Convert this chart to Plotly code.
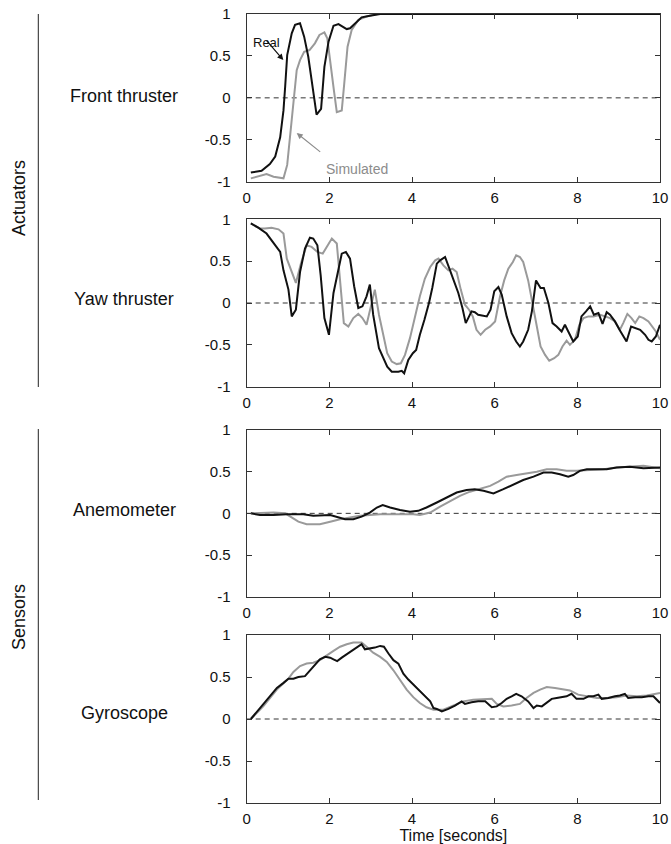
import plotly.graph_objects as go

# ---------------- data ----------------
front_real_t = [0.1, 0.36, 0.56, 0.69, 0.81, 0.89, 0.93, 0.98, 1.09, 1.17, 1.29, 1.39, 1.49, 1.59, 1.69, 1.80, 1.88, 1.98, 2.10, 2.22, 2.32, 2.42, 2.50, 2.62, 2.78, 2.98, 3.23, 4.0, 6.0, 8.0, 10.0]
front_real_v = [-0.89, -0.87, -0.79, -0.70, -0.47, -0.15, 0.13, 0.51, 0.77, 0.87, 0.89, 0.73, 0.49, 0.13, -0.20, -0.13, 0.37, 0.67, 0.86, 0.88, 0.85, 0.82, 0.83, 0.89, 0.96, 0.98, 1.0, 1.0, 1.0, 1.0, 1.0]
front_sim_t = [0.1, 0.48, 0.65, 0.89, 0.98, 1.06, 1.15, 1.21, 1.29, 1.39, 1.52, 1.65, 1.76, 1.88, 1.95, 2.03, 2.11, 2.18, 2.30, 2.36, 2.44, 2.54, 2.70, 2.90, 3.15, 4.0, 6.0, 8.0, 10.0]
front_sim_v = [-0.96, -0.91, -0.94, -0.96, -0.80, -0.42, 0.05, 0.33, 0.45, 0.55, 0.57, 0.65, 0.75, 0.78, 0.71, 0.43, 0.09, -0.17, -0.15, 0.17, 0.61, 0.81, 0.93, 0.97, 1.0, 1.0, 1.0, 1.0, 1.0]

yaw_real_t = [0.1, 0.28, 0.48, 0.69, 0.81, 0.89, 1.01, 1.09, 1.19, 1.29, 1.41, 1.53, 1.61, 1.71, 1.79, 1.88, 1.99, 2.10, 2.19, 2.30, 2.40, 2.50, 2.60, 2.70, 2.80, 2.90, 2.98, 3.06, 3.20, 3.31, 3.40, 3.51, 3.67, 3.75, 3.81, 3.91, 4.02, 4.10, 4.19, 4.30, 4.41, 4.49, 4.60, 4.68, 4.80, 4.92, 5.02, 5.12, 5.22, 5.30, 5.36, 5.44, 5.52, 5.60, 5.81, 5.90, 5.99, 6.09, 6.17, 6.29, 6.41, 6.52, 6.61, 6.69, 6.81, 6.90, 7.00, 7.11, 7.19, 7.30, 7.40, 7.50, 7.62, 7.70, 7.78, 7.90, 8.01, 8.10, 8.21, 8.31, 8.40, 8.51, 8.61, 8.71, 8.79, 8.91, 9.02, 9.11, 9.19, 9.30, 9.40, 9.52, 9.64, 9.72, 9.80, 9.90, 10.0]
yaw_real_v = [0.95, 0.90, 0.83, 0.68, 0.61, 0.39, 0.16, -0.16, -0.08, 0.37, 0.65, 0.78, 0.77, 0.69, 0.33, -0.18, -0.38, 0.12, 0.35, 0.59, 0.61, 0.53, 0.20, -0.06, -0.04, 0.08, 0.22, -0.14, -0.54, -0.66, -0.76, -0.82, -0.82, -0.81, -0.84, -0.68, -0.60, -0.56, -0.38, -0.20, 0.0, 0.18, 0.47, 0.51, 0.55, 0.39, 0.25, 0.12, -0.06, -0.24, -0.18, -0.10, -0.11, -0.14, -0.16, -0.08, 0.14, 0.19, 0.10, -0.16, -0.36, -0.46, -0.52, -0.46, -0.32, -0.10, 0.27, 0.18, 0.18, 0.0, -0.24, -0.28, -0.34, -0.26, -0.34, -0.46, -0.40, -0.16, -0.10, -0.04, -0.14, -0.12, -0.25, -0.11, -0.14, -0.22, -0.32, -0.40, -0.46, -0.28, -0.30, -0.32, -0.38, -0.44, -0.46, -0.40, -0.26]
yaw_sim_t = [0.1, 0.32, 0.44, 0.60, 0.77, 0.89, 0.97, 1.07, 1.19, 1.31, 1.45, 1.57, 1.71, 1.84, 1.94, 2.06, 2.18, 2.26, 2.35, 2.46, 2.58, 2.70, 2.80, 2.90, 3.02, 3.10, 3.20, 3.31, 3.40, 3.51, 3.63, 3.73, 3.83, 3.95, 4.07, 4.19, 4.31, 4.44, 4.56, 4.64, 4.76, 4.88, 4.98, 5.08, 5.18, 5.28, 5.38, 5.47, 5.56, 5.66, 5.77, 5.89, 6.01, 6.13, 6.23, 6.33, 6.44, 6.52, 6.61, 6.69, 6.81, 6.92, 7.02, 7.11, 7.22, 7.32, 7.44, 7.54, 7.64, 7.74, 7.82, 7.94, 8.05, 8.15, 8.27, 8.39, 8.55, 8.67, 8.79, 8.91, 9.03, 9.11, 9.21, 9.31, 9.40, 9.50, 9.60, 9.72, 9.80, 9.90, 10.0]
yaw_sim_v = [0.95, 0.89, 0.89, 0.90, 0.88, 0.83, 0.53, 0.39, 0.24, 0.47, 0.69, 0.67, 0.61, 0.59, 0.67, 0.77, 0.71, 0.27, -0.24, -0.28, -0.18, -0.13, -0.18, -0.26, 0.0, 0.16, -0.14, -0.40, -0.60, -0.70, -0.73, -0.72, -0.62, -0.42, -0.16, 0.08, 0.29, 0.43, 0.51, 0.53, 0.45, 0.39, 0.41, 0.37, 0.16, -0.02, -0.08, -0.16, -0.32, -0.38, -0.32, -0.28, -0.22, 0.08, 0.27, 0.41, 0.49, 0.57, 0.55, 0.49, 0.27, -0.04, -0.28, -0.52, -0.62, -0.69, -0.66, -0.62, -0.52, -0.45, -0.50, -0.44, -0.26, -0.18, -0.16, -0.16, -0.14, -0.16, -0.18, -0.22, -0.32, -0.24, -0.13, -0.18, -0.24, -0.16, -0.18, -0.22, -0.28, -0.34, -0.44]

anem_real_t = [0.1, 0.32, 0.65, 0.97, 1.37, 1.61, 2.02, 2.18, 2.38, 2.58, 2.78, 2.98, 3.15, 3.29, 3.47, 3.71, 3.95, 4.15, 4.35, 4.60, 4.84, 5.08, 5.32, 5.52, 5.73, 5.97, 6.21, 6.45, 6.69, 6.94, 7.18, 7.38, 7.58, 7.78, 7.90, 8.06, 8.23, 8.47, 8.71, 8.95, 9.27, 9.60, 9.84, 10.0]
anem_real_v = [0.0, -0.02, -0.02, -0.01, -0.01, -0.03, -0.02, -0.04, -0.07, -0.07, -0.04, 0.01, 0.07, 0.10, 0.07, 0.04, 0.02, 0.03, 0.07, 0.13, 0.19, 0.25, 0.28, 0.29, 0.27, 0.24, 0.29, 0.35, 0.40, 0.44, 0.49, 0.49, 0.47, 0.44, 0.46, 0.51, 0.53, 0.53, 0.53, 0.55, 0.56, 0.54, 0.55, 0.55]
anem_sim_t = [0.1, 0.65, 0.93, 1.09, 1.25, 1.45, 1.77, 2.02, 2.26, 2.50, 2.74, 2.98, 3.23, 3.63, 4.03, 4.19, 4.44, 4.68, 4.92, 5.16, 5.40, 5.65, 5.89, 6.09, 6.29, 6.53, 6.77, 7.02, 7.26, 7.50, 7.74, 7.98, 8.31, 8.63, 8.95, 9.27, 9.60, 10.0]
anem_sim_v = [0.0, 0.01, 0.0, -0.05, -0.10, -0.13, -0.13, -0.10, -0.07, -0.05, -0.03, -0.02, -0.01, -0.01, -0.01, -0.02, 0.01, 0.08, 0.15, 0.21, 0.26, 0.30, 0.33, 0.38, 0.44, 0.46, 0.48, 0.50, 0.53, 0.53, 0.51, 0.51, 0.52, 0.53, 0.55, 0.56, 0.57, 0.54]

gyro_real_t = [0.1, 0.24, 0.40, 0.56, 0.73, 0.89, 1.01, 1.13, 1.25, 1.41, 1.53, 1.65, 1.77, 1.90, 2.02, 2.10, 2.19, 2.30, 2.42, 2.54, 2.66, 2.78, 2.86, 2.98, 3.10, 3.23, 3.32, 3.43, 3.55, 3.67, 3.79, 3.91, 4.03, 4.15, 4.27, 4.44, 4.52, 4.60, 4.72, 4.88, 5.04, 5.20, 5.28, 5.44, 5.60, 5.77, 5.93, 6.05, 6.17, 6.29, 6.41, 6.52, 6.65, 6.81, 6.94, 7.02, 7.14, 7.26, 7.38, 7.50, 7.62, 7.74, 7.86, 7.98, 8.15, 8.27, 8.39, 8.51, 8.59, 8.75, 8.91, 9.03, 9.15, 9.23, 9.40, 9.56, 9.72, 9.84, 10.0]
gyro_real_v = [0.0, 0.08, 0.17, 0.27, 0.37, 0.43, 0.48, 0.48, 0.50, 0.51, 0.58, 0.64, 0.71, 0.74, 0.73, 0.71, 0.69, 0.73, 0.77, 0.81, 0.84, 0.89, 0.83, 0.84, 0.85, 0.87, 0.86, 0.78, 0.70, 0.66, 0.54, 0.47, 0.41, 0.35, 0.29, 0.21, 0.13, 0.12, 0.09, 0.12, 0.16, 0.21, 0.18, 0.20, 0.21, 0.21, 0.14, 0.15, 0.19, 0.24, 0.27, 0.30, 0.27, 0.21, 0.13, 0.16, 0.15, 0.19, 0.24, 0.25, 0.26, 0.27, 0.30, 0.24, 0.24, 0.27, 0.27, 0.29, 0.24, 0.25, 0.27, 0.28, 0.30, 0.25, 0.26, 0.26, 0.27, 0.27, 0.19]
gyro_sim_t = [0.1, 0.40, 0.73, 1.01, 1.13, 1.29, 1.45, 1.61, 1.77, 1.94, 2.10, 2.26, 2.42, 2.58, 2.78, 2.90, 3.06, 3.23, 3.39, 3.55, 3.71, 3.87, 4.03, 4.19, 4.35, 4.52, 4.76, 5.00, 5.24, 5.48, 5.73, 5.93, 6.05, 6.21, 6.41, 6.61, 6.77, 6.94, 7.10, 7.26, 7.46, 7.66, 7.82, 8.02, 8.23, 8.47, 8.71, 8.95, 9.19, 9.44, 9.68, 9.88, 10.0]
gyro_sim_v = [0.0, 0.15, 0.35, 0.48, 0.56, 0.63, 0.66, 0.67, 0.70, 0.76, 0.81, 0.86, 0.89, 0.91, 0.91, 0.86, 0.79, 0.74, 0.68, 0.58, 0.47, 0.35, 0.26, 0.19, 0.14, 0.11, 0.11, 0.16, 0.21, 0.23, 0.24, 0.24, 0.18, 0.15, 0.16, 0.18, 0.25, 0.31, 0.35, 0.38, 0.37, 0.35, 0.34, 0.29, 0.27, 0.25, 0.25, 0.26, 0.28, 0.27, 0.28, 0.30, 0.31]

panel_names = ["Front thruster", "Yaw thruster", "Anemometer", "Gyroscope"]
group_names = ["Actuators", "Sensors"]
x_ticks = [0, 2, 4, 6, 8, 10]
y_ticks = [-1, -0.5, 0, 0.5, 1]
y_tick_text = ["-1", "-0.5", "0", "0.5", "1"]
x_title = "Time [seconds]"

series = [
    (front_real_t, front_real_v, front_sim_t, front_sim_v),
    (yaw_real_t, yaw_real_v, yaw_sim_t, yaw_sim_v),
    (anem_real_t, anem_real_v, anem_sim_t, anem_sim_v),
    (gyro_real_t, gyro_real_v, gyro_sim_t, gyro_sim_v),
]

# ---------------- layout geometry ----------------
W, H = 671, 844
def py(p):
    return 1 - p / H

x_dom = [246.7 / W, 660.0 / W]
panel_px = [(14, 181.7), (219.3, 386.7), (430, 596.7), (635, 803)]

FONT = "Liberation Sans, Arial, sans-serif"
REAL_C = "#111111"
SIM_C = "#9a9a9a"
AX_C = "#333333"

fig = go.Figure()
layout = dict(
    width=W, height=H,
    margin=dict(l=0, r=0, t=0, b=0, autoexpand=False),
    paper_bgcolor="white", plot_bgcolor="white",
    showlegend=False,
    font=dict(family=FONT, color="#111111"),
)
shapes = []
annotations = []

for i, (rt, rv, st, sv) in enumerate(series):
    n = i + 1
    xa = "x" if n == 1 else f"x{n}"
    ya = "y" if n == 1 else f"y{n}"
    fig.add_trace(go.Scatter(x=st, y=sv, mode="lines", xaxis=xa, yaxis=ya,
                             line=dict(color=SIM_C, width=2), name="Simulated"))
    fig.add_trace(go.Scatter(x=rt, y=rv, mode="lines", xaxis=xa, yaxis=ya,
                             line=dict(color=REAL_C, width=2), name="Real"))
    top, bot = panel_px[i]
    axis_common = dict(showline=True, linecolor=AX_C, linewidth=1, mirror="ticks",
                       ticks="inside", ticklen=5, tickcolor=AX_C, showgrid=False,
                       zeroline=False, automargin=False,
                       tickfont=dict(family=FONT, size=15, color="#111111"))
    xk = "xaxis" if n == 1 else f"xaxis{n}"
    yk = "yaxis" if n == 1 else f"yaxis{n}"
    layout[xk] = dict(domain=x_dom, anchor=ya, range=[0, 10], tickvals=x_ticks,
                      ticktext=[str(v) for v in x_ticks], ticklabelstandoff=2, **axis_common)
    layout[yk] = dict(domain=[py(bot), py(top)], anchor=xa, range=[-1, 1],
                      tickvals=y_ticks, ticktext=y_tick_text, ticklabelstandoff=12, **axis_common)
    if n == 4:
        layout[xk]["title"] = dict(text=x_title, font=dict(family=FONT, size=16), standoff=4)
    # dashed zero line
    shapes.append(dict(type="line", xref=f"{xa} domain", yref=ya, x0=0, x1=1, y0=0, y1=0,
                       line=dict(color="#333333", width=1, dash="5px,4px"), layer="below"))
    # panel label
    annotations.append(dict(text=panel_names[i], xref="paper", yref="paper",
                            x=124 / W, y=py([96, 299, 510, 713][i]), showarrow=False,
                            font=dict(family=FONT, size=18, color="#111111"),
                            xanchor="center", yanchor="middle"))

# group brackets
for (t, b) in [(14, 387), (429, 800)]:
    shapes.append(dict(type="line", xref="paper", yref="paper", x0=38.3 / W, x1=38.3 / W,
                       y0=py(t), y1=py(b), line=dict(color="#222222", width=1)))
for name, yc in zip(group_names, [198, 617]):
    annotations.append(dict(text=name, xref="paper", yref="paper", x=19 / W, y=py(yc),
                            showarrow=False, textangle=-90,
                            font=dict(family=FONT, size=18, color="#111111"),
                            xanchor="center", yanchor="middle"))

# Real / Simulated callouts in first panel
annotations.append(dict(text="Real", xref="paper", yref="paper", x=266 / W, y=py(33),
                        showarrow=False, font=dict(family=FONT, size=13, color="#111111")))
annotations.append(dict(text="", xref="x", yref="y", x=0.886, y=0.45, ax=-18, ay=-21,
                        axref="pixel", ayref="pixel", showarrow=True, arrowhead=2,
                        arrowsize=1, arrowwidth=1.2, arrowcolor="#111111"))
annotations.append(dict(text="Simulated", xref="paper", yref="paper", x=357 / W, y=py(159),
                        showarrow=False, font=dict(family=FONT, size=14, color="#8c8c8c")))
annotations.append(dict(text="", xref="x", yref="y", x=1.21, y=-0.42, ax=25, ay=20,
                        axref="pixel", ayref="pixel", showarrow=True, arrowhead=2,
                        arrowsize=1, arrowwidth=1.2, arrowcolor="#8c8c8c"))

layout["shapes"] = shapes
layout["annotations"] = annotations
fig.update_layout(**layout)
fig.write_html("out.html")
